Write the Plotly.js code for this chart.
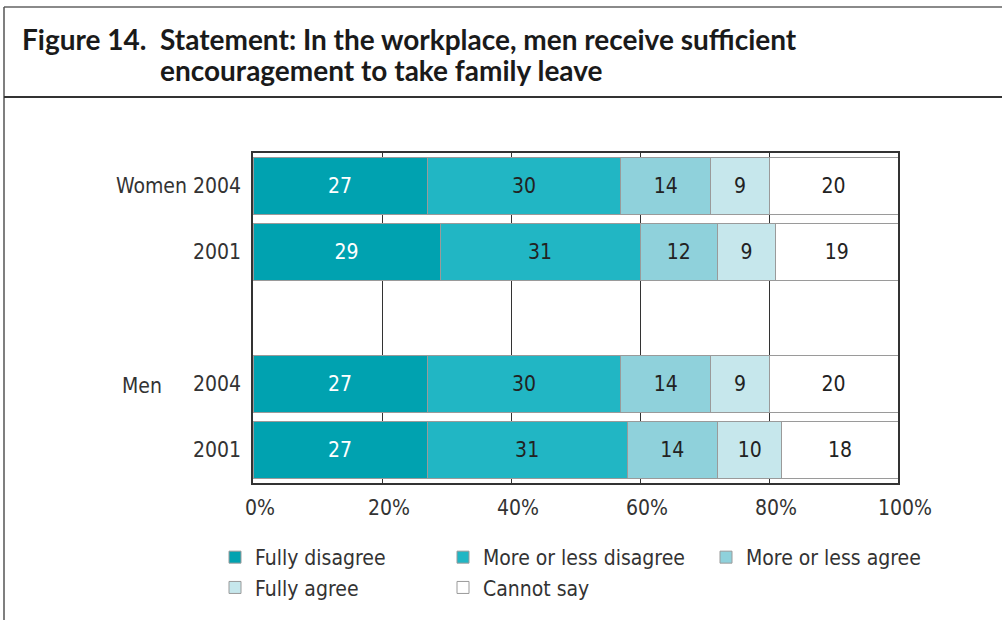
<!DOCTYPE html>
<html>
<head>
<meta charset="utf-8">
<script src="https://cdn.plot.ly/plotly-3.0.1.min.js"></script>
<style>
html,body{margin:0;padding:0;background:#fff;}
#chart{width:1002px;height:620px;}
</style>
</head>
<body>
<div id="chart"></div>
<script>
// ---- data ----
const rowKeys = ["Women 2004", "Women 2001", "spacer", "Men 2004", "Men 2001"];
const rowTickText = ["Women 2004", "2001", "", "2004", "2001"];
const dataRows = ["Women 2004", "Women 2001", "Men 2004", "Men 2001"];
const seriesNames = ["Fully disagree", "More or less disagree", "More or less agree", "Fully agree", "Cannot say"];
const fullyDisagree = [27, 29, 27, 27];
const moreOrLessDisagree = [30, 31, 30, 31];
const moreOrLessAgree = [14, 12, 14, 14];
const fullyAgree = [9, 9, 9, 10];
const cannotSay = [20, 19, 20, 18];
const xTickVals = [0, 20, 40, 60, 80, 100];
const xTickText = ["0%", "20%", "40%", "60%", "80%", "100%"];

// ---- styles ----
const seriesValues = [fullyDisagree, moreOrLessDisagree, moreOrLessAgree, fullyAgree, cannotSay];
const colors = ["#00a2b0", "#21b6c4", "#8fd1db", "#c6e7ec", "#ffffff"];
const textColors = ["#ffffff", "#222222", "#222222", "#222222", "#222222"];
const legendIds = ["legend", "legend2", "legend3", "legend", "legend2"];
const FONT = "'DejaVu Sans Condensed', 'Liberation Sans Narrow', sans-serif";
const TFONT = "Lato, 'Open Sans', sans-serif";
const FS = 21;

const traces = seriesNames.map((name, i) => ({
  type: "bar",
  orientation: "h",
  name: name,
  y: dataRows,
  x: seriesValues[i],
  marker: {color: colors[i], line: {color: "#9a9a9a", width: 1}},
  text: seriesValues[i].map(String),
  texttemplate: "%{text}",
  textposition: "inside",
  insidetextanchor: "middle",
  textangle: 0,
  constraintext: "none",
  textfont: {family: FONT, size: FS, color: textColors[i]},
  hoverinfo: "name+x",
  legend: legendIds[i]
}));

const L = 253, R = 898, T = 153, B = 483;
const px2x = p => (p - L) / (R - L);
const py2y = p => (B - p) / (B - T);

const legendCommon = {
  orientation: "v",
  traceorder: "normal",
  font: {family: FONT, size: FS, color: "#333"},
  bgcolor: "rgba(0,0,0,0)",
  borderwidth: 0,
  xanchor: "left",
  yanchor: "top",
  y: py2y(537),
  tracegroupgap: 0,
  itemclick: false
};

const layout = {
  width: 1002,
  height: 620,
  margin: {l: L, r: 1002 - R, t: T, b: 620 - B, pad: 0},
  paper_bgcolor: "#fff",
  plot_bgcolor: "#fff",
  barmode: "stack",
  bargap: 0.15,
  showlegend: true,
  title: {
    text: "Figure 14.\u00a0\u00a0Statement: In the workplace, men receive sufficient",
    x: 22 / 1002, xanchor: "left", xref: "container",
    y: 1 - 40 / 620, yanchor: "middle", yref: "container",
    font: {family: TFONT, size: 28, color: "#1a1a1a", weight: "bold"}
  },
  xaxis: {
    range: [0, 100],
    tickvals: xTickVals,
    ticktext: xTickText,
    showgrid: true,
    gridcolor: "#333",
    gridwidth: 1,
    zeroline: false,
    showline: true,
    linecolor: "#333",
    linewidth: 1.5,
    mirror: true,
    ticks: "",
    tickfont: {family: FONT, size: FS, color: "#333"},
    ticklabelstandoff: 5,
    ticklabelshift: 7,
    fixedrange: true
  },
  yaxis: {
    type: "category",
    categoryorder: "array",
    categoryarray: rowKeys,
    tickvals: rowKeys,
    ticktext: rowTickText,
    range: [4.5, -0.5],
    showgrid: false,
    zeroline: false,
    showline: true,
    linecolor: "#333",
    linewidth: 1.5,
    mirror: true,
    ticks: "",
    tickfont: {family: FONT, size: FS, color: "#333"},
    ticklabelstandoff: 6,
    fixedrange: true
  },
  legend: Object.assign({}, legendCommon, {x: px2x(215)}),
  legend2: Object.assign({}, legendCommon, {x: px2x(443)}),
  legend3: Object.assign({}, legendCommon, {x: px2x(706)}),
  annotations: [
    {
      text: "encouragement to take family leave",
      xref: "paper", yref: "paper",
      x: px2x(158), y: py2y(70),
      xanchor: "left", yanchor: "middle",
      showarrow: false,
      font: {family: TFONT, size: 28, color: "#1a1a1a", weight: "bold"}
    },
    {
      text: "Men",
      xref: "paper", yref: "paper",
      x: px2x(120), y: py2y(386),
      xanchor: "left", yanchor: "middle",
      showarrow: false,
      font: {family: FONT, size: FS, color: "#333"}
    }
  ],
  shapes: [
    {type: "line", xref: "paper", yref: "paper", x0: px2x(4), x1: px2x(1010), y0: py2y(7), y1: py2y(7), line: {color: "#8a8a8a", width: 2}},
    {type: "line", xref: "paper", yref: "paper", x0: px2x(4), x1: px2x(4), y0: py2y(7), y1: py2y(640), line: {color: "#555", width: 1.5}},
    {type: "line", xref: "paper", yref: "paper", x0: px2x(4), x1: px2x(1010), y0: py2y(97), y1: py2y(97), line: {color: "#333", width: 2}}
  ]
};

Plotly.newPlot("chart", traces, layout, {displayModeBar: false});
</script>
</body>
</html>
